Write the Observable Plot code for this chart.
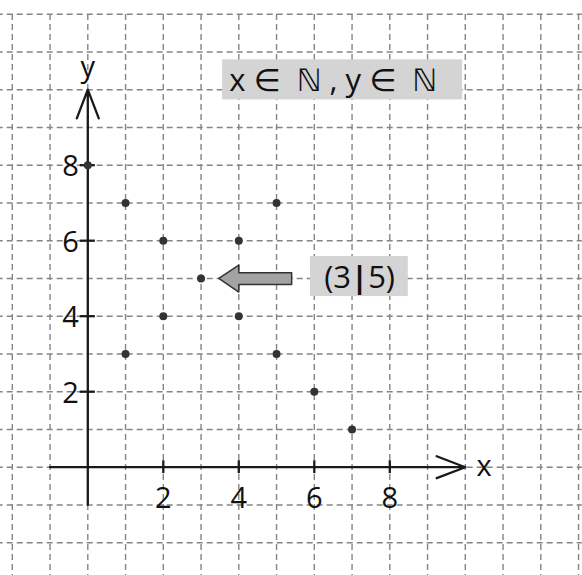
<!DOCTYPE html>
<html>
<head>
<meta charset="utf-8">
<script src="https://cdn.jsdelivr.net/npm/d3@7"></script>
<script src="https://cdn.jsdelivr.net/npm/@observablehq/plot@0.6"></script>
<style>
  html, body { margin: 0; padding: 0; background: #fff; }
  svg { display: block; }
</style>
</head>
<body>
<div id="chart"></div>
<script>
// ---- data ----
const gridX = [-2, -1, 0, 1, 2, 3, 4, 5, 6, 7, 8, 9, 10, 11, 12, 13];
const gridY = [-2, -1, 0, 1, 2, 3, 4, 5, 6, 7, 8, 9, 10, 11, 12];
const tickValues = [2, 4, 6, 8];
const tickLabels = ["2", "4", "6", "8"];
const px = [0, 1, 2, 4, 5, 3, 2, 4, 1, 5, 6, 7];
const py = [8, 7, 6, 6, 7, 5, 4, 4, 3, 3, 2, 1];
const axesLines = [
  {x1: -1, y1: 0, x2: 10, y2: 0},
  {x1: 0, y1: -1, x2: 0, y2: 10}
];
const axisNames = [{x: 10.5, y: 0, t: "x"}, {x: 0, y: 10.58, t: "y"}];
const boxes = [
  {x1: 3.57, x2: 9.93, y1: 9.73, y2: 10.79, label: "x \u2208  \u2115 , y \u2208  \u2115", cx: 6.5, cy: 10.24},
  {x1: 5.9, x2: 8.49, y1: 4.52, y2: 5.58, label: "(3|5)", cx: 7.2, cy: 5.0}
];
const blockArrow = [
  [3.47, 5.0], [4.0, 5.35], [4.0, 5.15], [5.40, 5.15],
  [5.40, 4.84], [4.0, 4.84], [4.0, 4.64], [3.47, 5.0]
];

const points = px.map((x, i) => ({x, y: py[i]}));
const ticks = tickValues.map((v, i) => ({v, label: tickLabels[i]}));
const font = "'Open Sans', 'DejaVu Sans', sans-serif";

const chart = Plot.plot({
  width: 582,
  height: 575,
  margin: 0,
  style: {background: "#fff", fontFamily: font},
  x: {domain: [0, 10], range: [87.3, 464.8], axis: null},
  y: {domain: [0, 10], range: [466.7, 89.2], axis: null},
  marks: [
    Plot.ruleX(gridX, {x: d => d, y1: -3, y2: 12, stroke: "#858585", strokeWidth: 1.4, strokeDasharray: "6,4"}),
    Plot.ruleY(gridY, {y: d => d, x1: -2.4, x2: 13.1, stroke: "#858585", strokeWidth: 1.4, strokeDasharray: "6,4"}),
    Plot.rect(boxes, {x1: "x1", x2: "x2", y1: "y1", y2: "y2", fill: "#d4d4d4"}),
    Plot.arrow(axesLines, {x1: "x1", y1: "y1", x2: "x2", y2: "y2", stroke: "#1a1a1a", strokeWidth: 2.3, headLength: 20, headAngle: 42}),
    Plot.ruleX(ticks, {x: "v", y1: -0.17, y2: 0.17, stroke: "#1a1a1a", strokeWidth: 2.3}),
    Plot.ruleY(ticks, {y: "v", x1: -0.2, x2: 0.2, stroke: "#1a1a1a", strokeWidth: 2.3}),
    Plot.text(ticks, {x: "v", y: 0, text: "label", dy: 32, fontSize: 29, fill: "#111"}),
    Plot.text(ticks, {x: 0, y: "v", text: "label", dx: -9, dy: 2, textAnchor: "end", fontSize: 29, fill: "#111"}),
    Plot.text(axisNames, {x: "x", y: "y", text: "t", fontSize: 29, fill: "#111"}),
    Plot.line(blockArrow, {x: d => d[0], y: d => d[1], fill: "#a3a3a3", stroke: "#333", strokeWidth: 1.5, curve: "linear"}),
    Plot.dot(points, {x: "x", y: "y", r: 4, fill: "#333", stroke: "none"}),
    Plot.text(boxes, {x: "cx", y: "cy", text: "label", fontSize: 31, fill: "#111"})
  ]
});

// make the separator bar of the point label bold
d3.select(chart).selectAll("text").each(function() {
  const t = d3.select(this);
  if (t.text() === "(3|5)") {
    t.text("");
    t.append("tspan").text("(3");
    t.append("tspan").attr("font-weight", "bold").text("|");
    t.append("tspan").text("5)");
  }
});

document.getElementById("chart").appendChild(chart);
</script>
</body>
</html>
